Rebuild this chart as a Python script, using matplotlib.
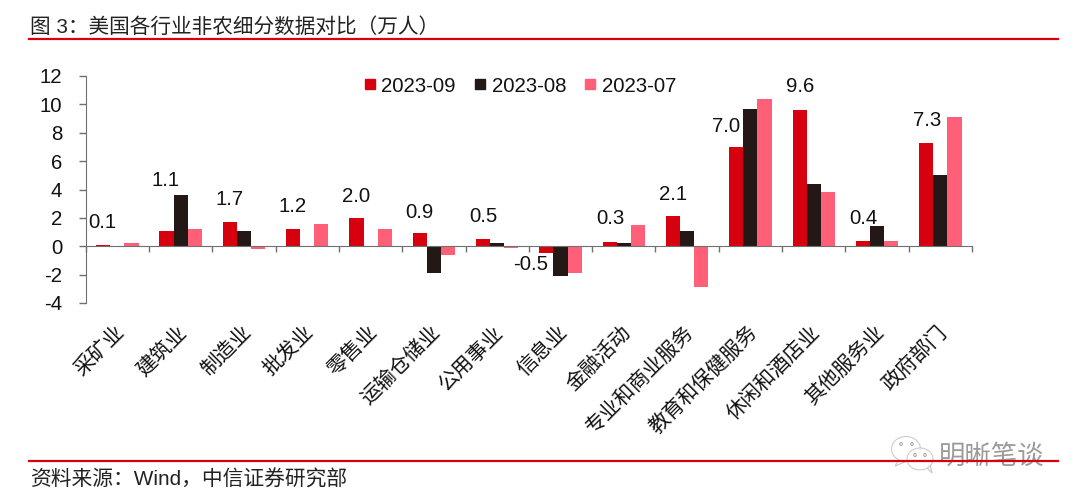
import matplotlib
matplotlib.use('Agg')
import matplotlib.pyplot as plt
from matplotlib.lines import Line2D
from matplotlib.patches import Ellipse, Polygon
import numpy as np

plt.rcParams['font.family'] = ['Liberation Sans', 'Noto Sans CJK SC']
plt.rcParams['axes.unicode_minus'] = False

categories = ['采矿业', '建筑业', '制造业', '批发业', '零售业', '运输仓储业', '公用事业', '信息业',
              '金融活动', '专业和商业服务', '教育和保健服务', '休闲和酒店业', '其他服务业', '政府部门']
sep_2023 = [0.1, 1.1, 1.7, 1.2, 2.0, 0.9, 0.5, -0.5, 0.3, 2.1, 7.0, 9.6, 0.4, 7.3]
aug_2023 = [0.0, 3.6, 1.1, 0.0, 0.0, -1.9, 0.2, -2.1, 0.2, 1.1, 9.7, 4.4, 1.4, 5.0]
jul_2023 = [0.2, 1.2, -0.2, 1.55, 1.25, -0.65, -0.15, -1.9, 1.5, -2.9, 10.4, 3.8, 0.4, 9.1]
y_ticks = [-4, -2, 0, 2, 4, 6, 8, 10, 12]

W, H = 1080, 504
RED = '#d7000f'
BLACK = '#231815'
PINK = '#ff6078'
AXIS = '#707070'

fig = plt.figure(figsize=(W / 100, H / 100), dpi=100)
ax = fig.add_axes([85.7 / W, 1 - 303 / H, (972 - 85.7) / W, (303 - 76) / H])

# grouped bars
x = np.arange(len(categories))
w = 0.223
ax.bar(x - w, sep_2023, w, color=RED, label='2023-09')
ax.bar(x, aug_2023, w, color=BLACK, label='2023-08')
ax.bar(x + w, jul_2023, w, color=PINK, label='2023-07')

ax.set_xlim(-0.5, len(categories) - 0.5)
ax.set_ylim(-4, 12)
ax.set_yticks(y_ticks)
ax.tick_params(axis='y', length=4.8, width=1, color=AXIS, labelsize=14.7, pad=12, labelcolor='#111111')

# ticks between the groups, sitting on the zero line
ax.set_xticks(np.arange(len(categories) + 1) - 0.5)
ax.tick_params(axis='x', length=4.3, width=1, color=AXIS, labelbottom=False)

for s in ['top', 'right']:
    ax.spines[s].set_visible(False)
ax.spines['bottom'].set_position(('data', 0))
ax.spines['bottom'].set_color(AXIS)
ax.spines['left'].set_color(AXIS)

# rotated category names, hanging from below the plot
for i, name in enumerate(categories):
    ax.annotate(name, xy=(i, -4), xycoords='data', xytext=(-2.3, -14), textcoords='offset points',
                rotation=45, rotation_mode='anchor', ha='right', va='top', fontsize=14.8, color='#111111')

# labels for the September bars, placed by hand like in the original
label_px = [(102, 222), (166, 181), (230, 200), (293, 207), (356, 197), (419, 212), (483, 217),
            (531, 265), (610, 219), (673, 194), (726, 127), (800, 87), (863, 219), (927, 120)]
for v, (px, py) in zip(sep_2023, label_px):
    fig.text(px / W, 1 - py / H, f'{v:.1f}', ha='center', va='center', fontsize=14.7, color='#111111')

handles = [Line2D([], [], marker='s', ls='', ms=7.5, color=c) for c in (RED, BLACK, PINK)]
fig.legend(handles, ['2023-09', '2023-08', '2023-07'], ncol=3, frameon=False, fontsize=14.7,
           loc='center left', bbox_to_anchor=(362 / W, 1 - 86 / H), handlelength=0.75, handletextpad=0.2,
           columnspacing=0.8, borderpad=0, borderaxespad=0, labelcolor='#111111')

# header and footer
fig.text(30 / W, 1 - 27 / H, '图 3：美国各行业非农细分数据对比（万人）', fontsize=14.85, va='center', color='#222222')
fig.add_artist(Line2D([29 / W, 1058 / W], [1 - 38.5 / H] * 2, color=RED, lw=1.6))
fig.add_artist(Line2D([29 / W, 1058 / W], [1 - 461 / H] * 2, color=RED, lw=1.6))
fig.text(30 / W, 1 - 480 / H, '资料来源：Wind，中信证券研究部', fontsize=14.95, va='center', color='#222222')

# watermark
bg = fig.add_axes([0, 0, 1, 1], facecolor='none')
bg.set_xlim(0, W)
bg.set_ylim(H, 0)
bg.axis('off')
for cx, cy, ew, eh, tail in [(906, 449, 29, 25, [(899, 460), (895, 466), (905, 462)]),
                             (920, 459, 26, 22, [(927, 468), (932, 473), (930, 464)])]:
    bg.add_patch(Polygon(tail, fc='white', ec='#c4c4c4', lw=0.8, alpha=0.95))
    bg.add_patch(Ellipse((cx, cy), ew, eh, fc='white', ec='#c4c4c4', lw=0.8, alpha=0.85))
for ex, ey in [(901, 444), (912, 444), (915, 455), (925, 455)]:
    bg.add_patch(Ellipse((ex, ey), 2.5, 3, fc='none', ec='#a0a0a0', lw=0.7))
bg.text(939, 456, '明晰笔谈', fontsize=19, color='#909090', va='center', alpha=0.9,
        family=['Noto Sans CJK SC'])

fig.savefig('out.png', dpi=100)
